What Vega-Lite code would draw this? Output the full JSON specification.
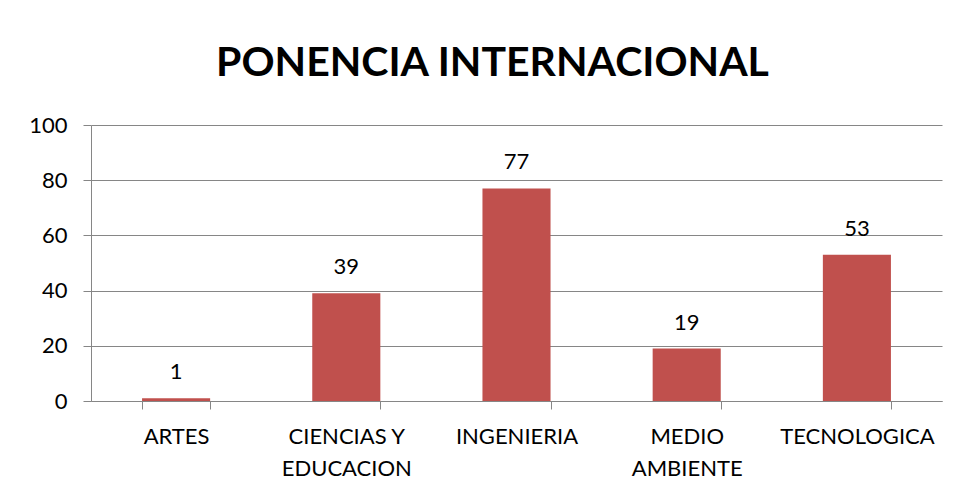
{
  "$schema": "https://vega.github.io/schema/vega-lite/v6.json",
  "width": 851,
  "height": 276,
  "autosize": {"type": "none"},
  "padding": {"left": 91, "top": 125, "right": 19, "bottom": 93},
  "background": "white",
  "title": {
    "text": "PONENCIA INTERNACIONAL",
    "font": "Lato",
    "fontSize": 41,
    "fontWeight": "bold",
    "color": "#000000",
    "anchor": "middle",
    "frame": "group",
    "dx": -24,
    "baseline": "alphabetic",
    "offset": -3
  },
  "data": {
    "values": [
      {"area": "ARTES", "valor": 1},
      {"area": "CIENCIAS Y EDUCACION", "valor": 39},
      {"area": "INGENIERIA", "valor": 77},
      {"area": "MEDIO AMBIENTE", "valor": 19},
      {"area": "TECNOLOGICA", "valor": 53}
    ]
  },
  "config": {
    "view": {"stroke": null},
    "font": "Lato",
    "axis": {
      "labelFont": "Lato",
      "labelFontSize": 22,
      "labelColor": "#000000",
      "domainColor": "#868686",
      "tickColor": "#868686",
      "gridColor": "#868686",
      "domainWidth": 1,
      "tickWidth": 1,
      "gridWidth": 1,
      "title": null
    }
  },
  "encoding": {
    "x": {
      "field": "area",
      "type": "nominal",
      "sort": null,
      "scale": {"paddingInner": 0.6, "paddingOuter": 0.3},
      "axis": {
        "labelAngle": 0,
        "tickBand": "extent",
        "tickSize": 8,
        "labelPadding": 17,
        "labelLineHeight": 32,
        "labelBaseline": "top",
        "labelExpr": "indexof(datum.label, ' ') > 0 ? [slice(datum.label, 0, lastindexof(datum.label, ' ')), slice(datum.label, lastindexof(datum.label, ' ') + 1)] : datum.label"
      }
    },
    "y": {
      "field": "valor",
      "type": "quantitative",
      "scale": {"domain": [0, 100]},
      "axis": {
        "values": [0, 20, 40, 60, 80, 100],
        "tickSize": 8,
        "labelPadding": 16,
        "grid": true
      }
    }
  },
  "layer": [
    {"mark": {"type": "bar", "color": "#C0504D"}},
    {
      "mark": {"type": "text", "baseline": "bottom", "dy": -14, "fontSize": 22, "font": "Lato", "color": "#000000"},
      "encoding": {"text": {"field": "valor", "type": "quantitative"}}
    }
  ]
}
